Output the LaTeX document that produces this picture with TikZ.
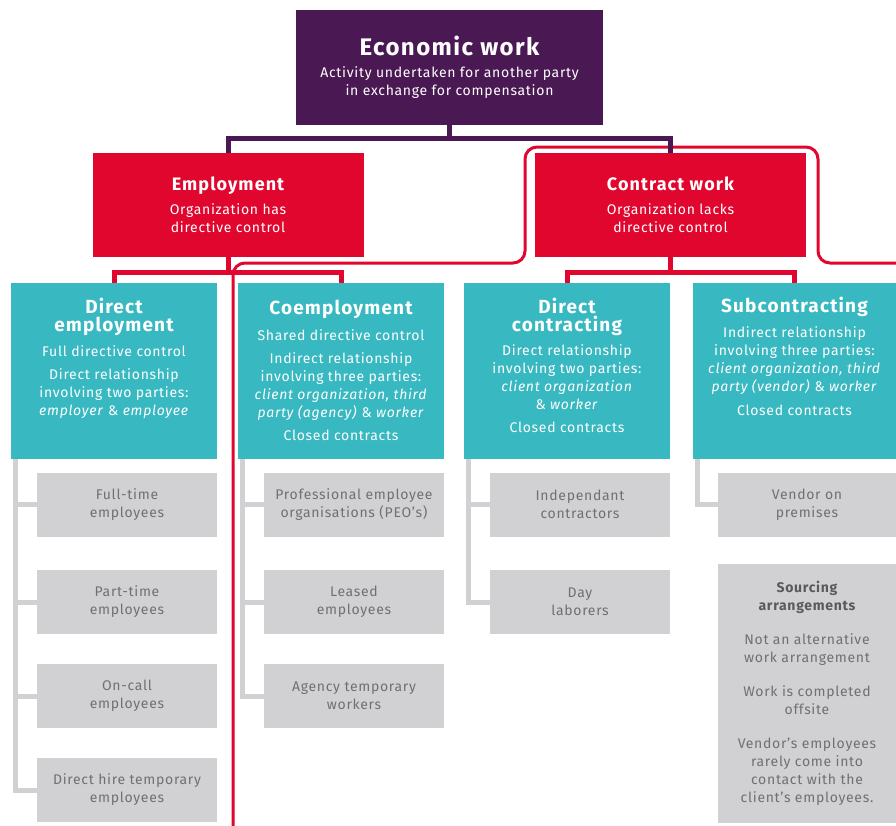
\documentclass[tikz,border=0pt]{standalone}
\usepackage{fontspec}
\setmainfont{Fira Sans}[LetterSpace=5]
\newfontfamily\headfont[LetterSpace=6]{Fira Sans}

\definecolor{ecoviolet}{HTML}{4A1853}
\definecolor{ctrlrouge}{HTML}{E1062E}
\definecolor{typeturq}{HTML}{38B8C1}
\definecolor{formgris}{HTML}{D1D1D3}
\definecolor{formtexte}{HTML}{707072}
\definecolor{srctitre}{HTML}{5A5A5C}

\begin{document}
\begin{tikzpicture}[x=1pt,y=-1pt]
\tikzset{
	corps/.style={font=\fontsize{14}{18}\selectfont},
	ecobox/.style={corps, fill=ecoviolet, text=white, align=center, inner sep=0pt,
		minimum width=307pt, minimum height=115pt},
	ctrlbox/.style={corps, fill=ctrlrouge, text=white, align=center, inner sep=0pt,
		minimum width=271pt, minimum height=104pt},
	typebox/.style={fill=typeturq, inner sep=0pt, minimum width=206pt, minimum height=176pt},
	typetexte/.style={corps, text=white, align=center, inner sep=0pt, anchor=north},
	formbox/.style={corps, fill=formgris, text=formtexte, align=center, inner sep=0pt,
		minimum width=180pt, minimum height=64pt},
	lienviolet/.style={draw=ecoviolet, line width=5pt},
	lienrouge/.style={draw=ctrlrouge, line width=5pt},
	liengris/.style={draw=formgris, line width=5pt},
	cadre/.style={draw=ctrlrouge, line width=3pt, rounded corners=12pt}
}
\newcommand\titre{\headfont\bfseries\fontsize{19}{19}\selectfont}
\newcommand\soustitre{\headfont\bfseries\fontsize{18}{18}\selectfont}

\useasboundingbox (0,0) rectangle (896,825);

% cadre autour du travail contractuel
\draw[cadre] (233,826) -- (233,263) -- (525,263) -- (525,147) -- (818,147)
	-- (818,263) -- (900,263);

% niveau 1 et 2
\node[ecobox] (eco) at (449.5,67.5) {{\headfont\bfseries\fontsize{24}{26}\selectfont Economic work}\\[4.5pt]
	Activity undertaken for another party\\in exchange for compensation};
\node[ctrlbox] (emp) at (228,205) {{\soustitre Employment}\\[6pt]
	Organization has\\directive control};
\node[ctrlbox] (cw) at (670.5,205) {{\soustitre Contract work}\\[6pt]
	Organization lacks\\directive control};

\coordinate (ecofourche) at (449.5,138);
\draw[lienviolet] (eco.south) -- (ecofourche);
\draw[lienviolet] (emp.north) |- (ecofourche) -| (cw.north);

% niveau 3 : les formes de relation
\node[typebox] (de) at (114,371) {};
\node[typebox] (co) at (341,371) {};
\node[typebox] (dc) at (567,371) {};
\node[typebox, minimum width=203pt] (sub) at (794.5,371) {};

\node[typetexte] (detxt) at ([yshift=-15pt]de.north) {{\titre Direct}\\{\titre employment}\\[7pt]
	Full directive control\\[5pt]
	Direct relationship\\involving two parties:\\\textit{employer} \& \textit{employee}};
\node[typetexte] (cotxt) at ([yshift=-17pt]co.north) {{\titre Coemployment}\\[8pt]
	Shared directive control\\[5pt]
	Indirect relationship\\involving three parties:\\\textit{client organization, third}\\
	\textit{party (agency)} \& \textit{worker}\\[5pt]
	Closed contracts};
\node[typetexte] (dctxt) at ([yshift=-15pt]dc.north) {{\titre Direct}\\{\titre contracting}\\[6pt]
	Direct relationship\\involving two parties:\\\textit{client organization}\\\& \textit{worker}\\[5pt]
	Closed contracts};
\node[typetexte] (subtxt) at ([yshift=-14pt]sub.north) {{\titre Subcontracting}\\[7pt]
	Indirect relationship\\involving three parties:\\\textit{client organization, third}\\
	\textit{party (vendor)} \& \textit{worker}\\[6pt]
	Closed contracts};

\coordinate (empfourche) at (228,272);
\coordinate (cwfourche) at (670.5,272);
\draw[lienrouge] (emp.south) -- (empfourche);
\draw[lienrouge] (de.north) |- (empfourche) -| (co.north);
\draw[lienrouge] (cw.south) -- (cwfourche);
\draw[lienrouge] (dc.north) |- (cwfourche) -| (sub.north);

% niveau 4 : les arrangements
\node[formbox] (ft) at (127,504.5) {Full-time\\employees};
\node[formbox] (pt) at (127,602) {Part-time\\employees};
\node[formbox] (oc) at (127,696) {On-call\\employees};
\node[formbox] (dh) at (127,790) {Direct hire temporary\\employees};

\node[formbox] (peo) at (354,504.5) {Professional employee\\organisations (PEO’s)};
\node[formbox] (le) at (354,602) {Leased\\employees};
\node[formbox] (atw) at (354,696) {Agency temporary\\workers};

\node[formbox] (ic) at (580,504.5) {Independant\\contractors};
\node[formbox] (dl) at (580,602) {Day\\laborers};

\node[formbox, minimum width=178pt] (vop) at (807,504.5) {Vendor on\\premises};
\node[formbox, minimum width=178pt, minimum height=259pt] (src) at (807,693.5)
	{{\bfseries\color{srctitre}Sourcing}\\{\bfseries\color{srctitre}arrangements}\\[16pt]
	Not an alternative\\work arrangement\\[16pt]
	Work is completed\\offsite\\[16pt]
	Vendor’s employees\\rarely come into\\contact with the\\client’s employees.};

% les arbres gris
\foreach \f in {ft,pt,oc,dh}
	\draw[liengris] ([xshift=4.5pt]de.south west) |- (\f.west);
\foreach \f in {peo,le,atw}
	\draw[liengris] ([xshift=4.5pt]co.south west) |- (\f.west);
\foreach \f in {ic,dl}
	\draw[liengris] ([xshift=4.5pt]dc.south west) |- (\f.west);
\draw[liengris] ([xshift=4.5pt]sub.south west) |- (vop.west);
\end{tikzpicture}
\end{document}
